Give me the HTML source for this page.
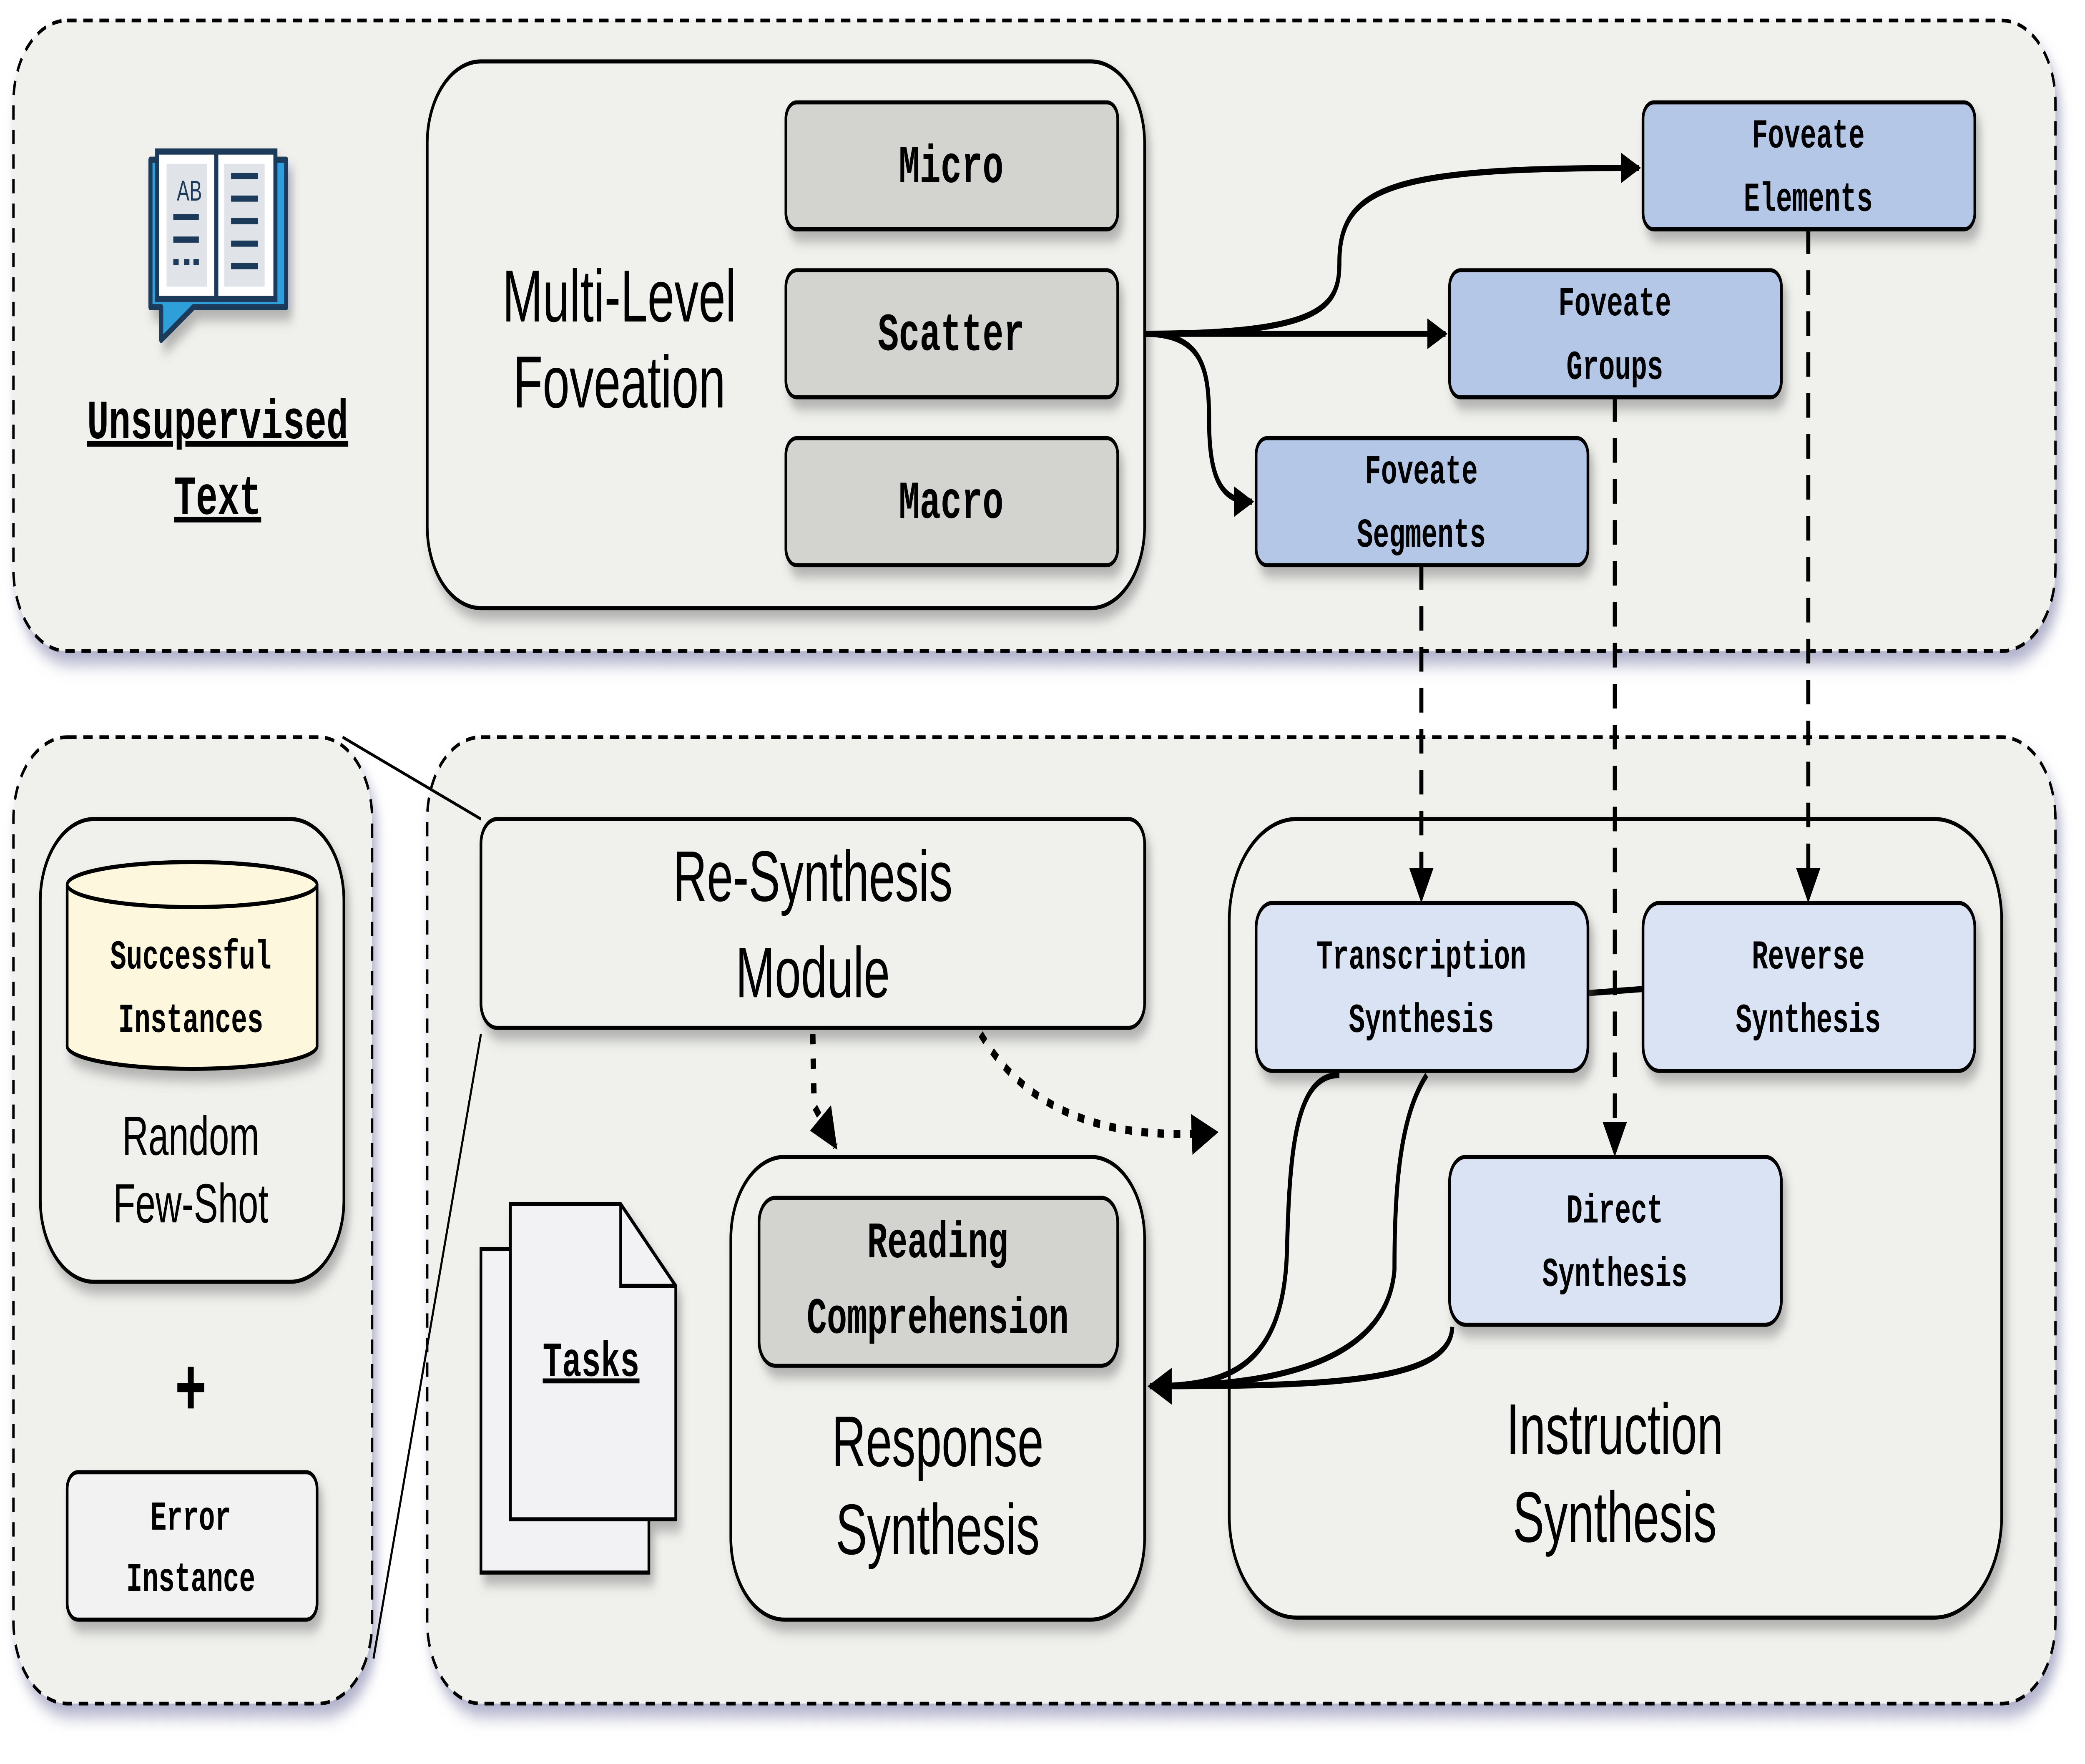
<!DOCTYPE html>
<html><head><meta charset="utf-8"><style>
html,body{margin:0;padding:0;background:#fff;width:100%;height:100%;overflow:hidden}
svg{display:block;position:absolute;left:0;top:0;width:100vw;height:100vh}
.m{font-family:"Liberation Mono",monospace;font-weight:bold;fill:#000;text-anchor:middle}
.h{font-family:"Liberation Sans","DejaVu Sans",sans-serif;fill:#000;text-anchor:middle}
</style></head><body>
<svg viewBox="0 0 1552 861.5" preserveAspectRatio="none" xmlns="http://www.w3.org/2000/svg">
<defs>
<filter id="s" x="-10%" y="-10%" width="130%" height="140%"><feDropShadow dx="3" dy="5" stdDeviation="3" flood-color="#666" flood-opacity="0.45"/></filter>
<filter id="sb" x="-5%" y="-5%" width="110%" height="115%"><feDropShadow dx="3" dy="6" stdDeviation="4" flood-color="#7b7fa8" flood-opacity="0.6"/></filter>
<marker id="a" viewBox="0 0 10 10" refX="9" refY="5" markerWidth="5" markerHeight="5" orient="auto-start-reverse" markerUnits="strokeWidth"><path d="M0,0 L10,5 L0,10 z" fill="#000"/></marker>
<marker id="a2" viewBox="0 0 10 10" refX="9" refY="5" markerWidth="6" markerHeight="6" orient="auto" markerUnits="strokeWidth"><path d="M0,0 L10,5 L0,10 z" fill="#000"/></marker>
</defs>
<rect width="1552" height="861.5" fill="#fff"/>
<rect x="10" y="10" width="1520" height="308" rx="40" fill="#f0f1ed" stroke="#000" stroke-width="1.8" stroke-dasharray="7,5" filter="url(#sb)"/>
<rect x="10" y="360" width="267" height="472" rx="40" fill="#f0f1ed" stroke="#000" stroke-width="1.8" stroke-dasharray="7,5" filter="url(#sb)"/>
<rect x="318" y="360" width="1212" height="472" rx="40" fill="#f0f1ed" stroke="#000" stroke-width="1.8" stroke-dasharray="7,5" filter="url(#sb)"/>

<g filter="url(#s)">
<path d="M112,78 H213 V150 H144 L120,166 V150 H112 Z" fill="#2e9fd9" stroke="#1a3a5a" stroke-width="3" stroke-linejoin="round"/>
<rect x="117" y="74" width="44" height="72" fill="#fff" stroke="#1a3a5a" stroke-width="3"/>
<rect x="161" y="74" width="44" height="72" fill="#fff" stroke="#1a3a5a" stroke-width="3"/>
<rect x="124" y="80" width="30" height="60" fill="#e0e4e8"/>
<rect x="167" y="80" width="30" height="60" fill="#e0e4e8"/>
<text x="141" y="98" font-family="Liberation Sans" font-size="14" fill="#1a3a5a" text-anchor="middle">AB</text>
<g stroke="#1a3a5a" stroke-width="3"><line x1="129" y1="106" x2="148" y2="106"/><line x1="129" y1="117" x2="148" y2="117"/><line x1="129" y1="128" x2="133" y2="128"/><line x1="137" y1="128" x2="141" y2="128"/><line x1="144" y1="128" x2="148" y2="128"/>
<line x1="172" y1="86" x2="192" y2="86"/><line x1="172" y1="97" x2="192" y2="97"/><line x1="172" y1="108" x2="192" y2="108"/><line x1="172" y1="119" x2="192" y2="119"/><line x1="172" y1="130" x2="192" y2="130"/></g>
</g>
<text class="m" x="162" y="214" font-size="27" text-decoration="underline">Unsupervised</text>
<text class="m" x="162" y="251" font-size="27" text-decoration="underline">Text</text>

<rect x="318" y="30" width="534" height="267" rx="40" fill="#f0f1ed" stroke="#000" stroke-width="2" filter="url(#s)"/>
<text class="h" x="461" y="157" font-size="36">Multi-Level</text>
<text class="h" x="461" y="199" font-size="36">Foveation</text>
<g stroke="#000" stroke-width="2" fill="#d3d3d0" filter="url(#s)">
<rect x="585" y="50" width="247" height="62" rx="8"/>
<rect x="585" y="132" width="247" height="62" rx="8"/>
<rect x="585" y="214" width="247" height="62" rx="8"/>
</g>
<text class="m" x="708" y="89" font-size="26">Micro</text>
<text class="m" x="708" y="171" font-size="26">Scatter</text>
<text class="m" x="708" y="253" font-size="26">Macro</text>

<g stroke="#000" stroke-width="2" fill="#b4c7e7" filter="url(#s)">
<rect x="1223" y="50" width="247" height="62" rx="8"/>
<rect x="1079" y="132" width="247" height="62" rx="8"/>
<rect x="935" y="214" width="247" height="62" rx="8"/>
</g>
<text class="m" x="1346" y="72" font-size="20">Foveate</text>
<text class="m" x="1346" y="103" font-size="20">Elements</text>
<text class="m" x="1202" y="154" font-size="20">Foveate</text>
<text class="m" x="1202" y="185" font-size="20">Groups</text>
<text class="m" x="1058" y="236" font-size="20">Foveate</text>
<text class="m" x="1058" y="267" font-size="20">Segments</text>

<g fill="none" stroke="#000" stroke-width="3">
<path d="M852,163 C985,163 997,150 997,128 C997,90 1040,82 1220,82" marker-end="url(#a)"/>
<path d="M852,163 L1076,163" marker-end="url(#a)"/>
<path d="M852,163 C895,163 900,180 900,205 C900,235 910,245 932,245" marker-end="url(#a)"/>
</g>

<rect x="30" y="400" width="226" height="226" rx="40" fill="#f0f1ed" stroke="#000" stroke-width="2" filter="url(#s)"/>
<g filter="url(#s)">
<path d="M50,432 V511 A93,11 0 0 0 236,511 V432" fill="#fdf7de" stroke="#000" stroke-width="2"/>
<ellipse cx="143" cy="432" rx="93" ry="11" fill="#fdf7de" stroke="#000" stroke-width="2"/>
</g>
<text class="m" x="142" y="473" font-size="20">Successful</text>
<text class="m" x="142" y="504" font-size="20">Instances</text>
<text class="h" x="142" y="564" font-size="27">Random</text>
<text class="h" x="142" y="597" font-size="27">Few-Shot</text>
<text class="h" x="142" y="691" font-size="40" font-weight="bold">+</text>
<rect x="50" y="719" width="186" height="72" rx="8" fill="#f2f2f2" stroke="#000" stroke-width="2" filter="url(#s)"/>
<text class="m" x="142" y="747" font-size="20">Error</text>
<text class="m" x="142" y="777" font-size="20">Instance</text>

<line x1="255" y1="360" x2="358" y2="400" stroke="#000" stroke-width="1.5"/>
<line x1="278" y1="810" x2="358" y2="505" stroke="#000" stroke-width="1.5"/>

<rect x="358" y="400" width="494" height="102" rx="12" fill="#f0f1ed" stroke="#000" stroke-width="2" filter="url(#s)"/>
<text class="h" x="605" y="440" font-size="35">Re-Synthesis</text>
<text class="h" x="605" y="487" font-size="35">Module</text>

<g fill="none" stroke="#000" stroke-width="4" stroke-dasharray="5,7">
<path d="M605,505 L606,540 L622,560" marker-end="url(#a)"/>
<path d="M730,505 Q780,560 905,553" marker-end="url(#a)"/>
</g>

<g filter="url(#s)">
<rect x="358" y="610" width="125" height="158" fill="#f2f2f4" stroke="#000" stroke-width="2"/>
<path d="M380,588 H462 L503,628 V742 H380 Z" fill="#f2f2f4" stroke="#000" stroke-width="2"/>
<path d="M462,588 V628 H503" fill="none" stroke="#000" stroke-width="2"/>
</g>
<text class="m" x="440" y="672" font-size="24" text-decoration="underline">Tasks</text>

<rect x="544" y="565" width="308" height="226" rx="40" fill="#f0f1ed" stroke="#000" stroke-width="2" filter="url(#s)"/>
<rect x="565" y="585" width="267" height="82" rx="12" fill="#d3d3d0" stroke="#000" stroke-width="2" filter="url(#s)"/>
<text class="m" x="698" y="614" font-size="25">Reading</text>
<text class="m" x="698" y="651" font-size="25">Comprehension</text>
<text class="h" x="698" y="716" font-size="35">Response</text>
<text class="h" x="698" y="759" font-size="35">Synthesis</text>

<rect x="915" y="400" width="575" height="390" rx="50" fill="#f0f1ed" stroke="#000" stroke-width="2" filter="url(#s)"/>
<text class="h" x="1202" y="710" font-size="35">Instruction</text>
<text class="h" x="1202" y="753" font-size="35">Synthesis</text>
<line x1="1182" y1="485" x2="1223" y2="483" stroke="#000" stroke-width="3"/>

<g fill="none" stroke="#000" stroke-width="3" stroke-dasharray="12,8">
<path d="M1346,112 L1346,428"/>
<path d="M1202,194 L1202,552"/>
<path d="M1058,276 L1058,428"/>
</g>
<g fill="#000">
<path d="M1337,424 L1355,424 L1346,441 Z"/>
<path d="M1193,548 L1211,548 L1202,565 Z"/>
<path d="M1049,424 L1067,424 L1058,441 Z"/>
</g>

<g stroke="#000" stroke-width="2" fill="#dae3f3" filter="url(#s)">
<rect x="935" y="441" width="247" height="82" rx="12"/>
<rect x="1223" y="441" width="247" height="82" rx="12"/>
<rect x="1079" y="565" width="247" height="82" rx="12"/>
</g>
<text class="m" x="1058" y="473" font-size="20">Transcription</text>
<text class="m" x="1058" y="504" font-size="20">Synthesis</text>
<text class="m" x="1346" y="473" font-size="20">Reverse</text>
<text class="m" x="1346" y="504" font-size="20">Synthesis</text>
<text class="m" x="1202" y="597" font-size="20">Direct</text>
<text class="m" x="1202" y="628" font-size="20">Synthesis</text>

<g fill="none" stroke="#000" stroke-width="3">
<path d="M997,525 C965,525 960,560 958,610 C956,670 910,677 856,677"/>
<path d="M1062,525 C1042,545 1038,580 1038,620 C1032,670 930,677 856,677"/>
<path d="M1081,648 C1080,675 990,677 856,677" marker-end="url(#a2)"/>
</g>
</svg>
</body></html>
